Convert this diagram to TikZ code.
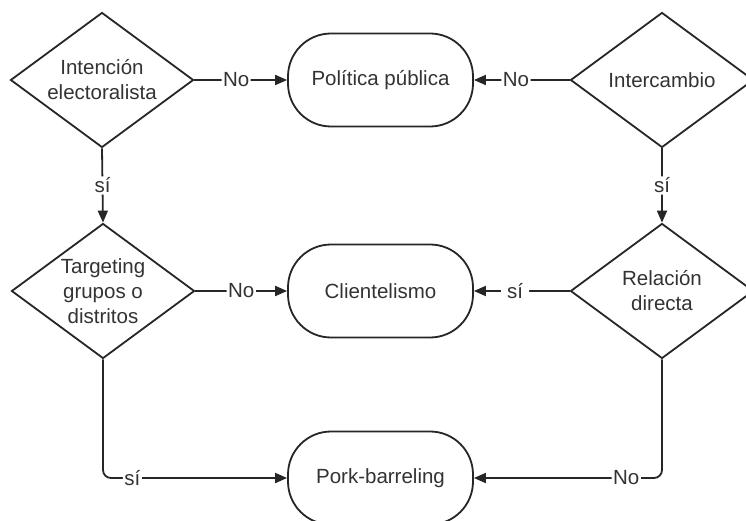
\documentclass[tikz,border=0pt]{standalone}
\usepackage{fontspec}
\setmainfont{Liberation Sans}
\usetikzlibrary{shapes.geometric,arrows.meta}
\definecolor{txt}{HTML}{333333}
\definecolor{ln}{HTML}{262626}
\begin{document}
\begin{tikzpicture}[x=1pt,y=-1pt,
  every node/.style={font=\fontsize{20.5}{25}\selectfont, text=txt},
  dec/.style={diamond, draw=ln, line width=1.8pt, minimum width=183pt, minimum height=135pt, inner sep=0pt},
  term/.style={rectangle, draw=ln, line width=1.8pt, rounded corners=43pt, minimum width=185pt, minimum height=93pt, align=center},
  conn/.style={draw=ln, line width=1.8pt, -{Triangle[length=12pt,width=10pt]}, rounded corners=8pt},
  lbl/.style={fill=white, inner sep=1.5pt}]
\clip (0,0) rectangle (746,521);
\fill[white] (0,0) rectangle (746,521);
% decisions
\node[dec, label={[align=center]center:Intención\\electoralista}] (d1) at (102,80) {};
\node[dec, label={[align=center]center:Intercambio}] (d2) at (662,80) {};
\node[dec, label={[align=center]center:Targeting\\grupos o\\distritos}] (d3) at (103,291) {};
\node[dec, label={[align=center]center:Relación\\directa}] (d4) at (662,291) {};
% terminals
\node[term] (r1) at (380.5,80) {Política pública};
\node[term] (r2) at (380.5,291) {Clientelismo};
\node[term] (r3) at (380.5,478) {Pork-barreling};
% connectors
\path[conn] (d1.east) -- node[lbl, pos=0.45] {No} (r1.west);
\path[conn] (d2.west) -- node[lbl, pos=0.56] {No} (r1.east);
\path[conn] (d1.south) -- node[lbl, pos=0.5] {sí} (d3.north);
\path[conn] (d2.south) -- node[lbl, pos=0.5] {sí} (d4.north);
\path[conn] (d3.east) -- node[lbl, pos=0.5] {No} (r2.west);
\path[conn] (d4.west) -- node[lbl, pos=0.57, inner xsep=6pt] {sí} (r2.east);
\path[conn] (d3.south) |- node[lbl, pos=0.58] {sí} (r3.west);
\path[conn] (d4.south) |- node[lbl, pos=0.595] {No} (r3.east);
\end{tikzpicture}
\end{document}
